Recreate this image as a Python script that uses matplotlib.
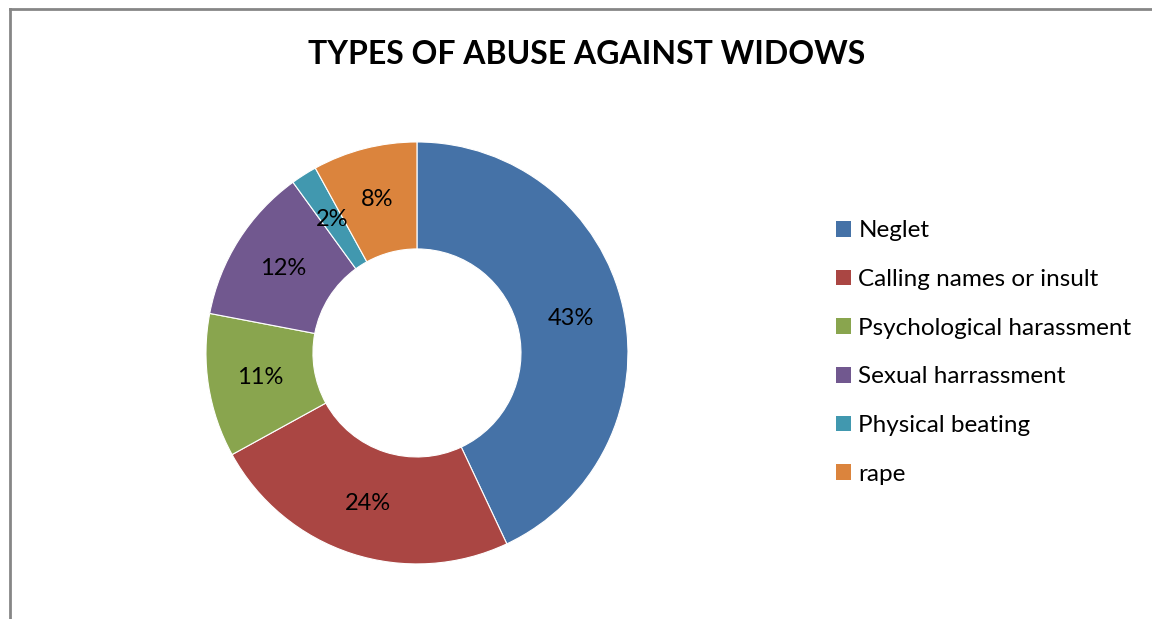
import matplotlib
matplotlib.use('Agg')
import matplotlib.pyplot as plt
from matplotlib.patches import Patch
from matplotlib.lines import Line2D

plt.rcParams['font.family'] = ['Lato', 'DejaVu Sans']

categories = ['Neglet', 'Calling names or insult', 'Psychological harassment',
              'Sexual harrassment', 'Physical beating', 'rape']
values = [43, 24, 11, 12, 2, 8]
colors = ['#4572A7', '#AA4643', '#89A54E', '#71588F', '#4198AF', '#DB843D']

fig = plt.figure(figsize=(11.52, 6.19), dpi=100)

# chart frame (only the left and top edges are inside the picture)
fig.add_artist(Line2D([0.0087, 0.0087], [0, 0.986], color='#868686', lw=2,
                      transform=fig.transFigure))
fig.add_artist(Line2D([0.0087, 1.0], [0.986, 0.986], color='#868686', lw=2,
                      transform=fig.transFigure))

ax = fig.add_axes([0.1788, 0.0889, 0.3663, 0.6818])
wedges, texts, autotexts = ax.pie(values, colors=colors, startangle=90, counterclock=False,
                                  radius=1.0, autopct='%1.0f%%', pctdistance=0.75,
                                  wedgeprops=dict(width=0.507, edgecolor='white', linewidth=0.8),
                                  textprops=dict(fontsize=17, color='black'))
ax.set_xlim(-1, 1)
ax.set_ylim(-1, 1)
ax.set_aspect('equal')
ax.axis('off')

fig.text(0.509, 0.912, 'TYPES OF ABUSE AGAINST WIDOWS', ha='center', va='center',
         fontsize=23, fontweight='bold')

handles = [Patch(facecolor=c, edgecolor='none') for c in colors]
fig.legend(handles, categories, loc='center left', bbox_to_anchor=(0.7257, 0.4305),
           frameon=False, fontsize=17.5, labelspacing=1.14, handlelength=0.62,
           handleheight=0.62, handletextpad=0.3, borderpad=0, borderaxespad=0)

fig.savefig('out.png', dpi=100, facecolor='white')
